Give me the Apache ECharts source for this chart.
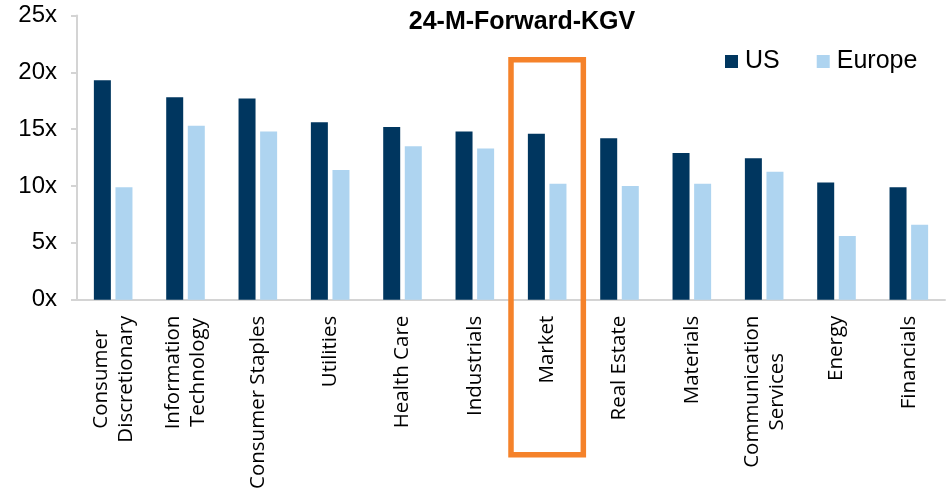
<!DOCTYPE html>
<html>
<head>
<meta charset="utf-8">
<script src="https://cdn.jsdelivr.net/npm/echarts@6/dist/echarts.min.js"></script>
<style>
html,body{margin:0;padding:0;background:#fff;}
#chart{width:950px;height:492px;}
</style>
</head>
<body>
<div id="chart"></div>
<script>
const categories = [
  'Consumer\nDiscretionary', 'Information\nTechnology', 'Consumer Staples', 'Utilities',
  'Health Care', 'Industrials', 'Market', 'Real Estate', 'Materials',
  'Communication\nServices', 'Energy', 'Financials'
];
const usValues     = [19.3, 17.8, 17.7, 15.6, 15.2, 14.8, 14.6, 14.2, 12.9, 12.45, 10.3, 9.9];
const europeValues = [9.9, 15.3, 14.8, 11.4, 13.5, 13.3, 10.2, 10.0, 10.2, 11.25, 5.6, 6.6];
const yTicks = [0, 5, 10, 15, 20, 25];
const highlightCategory = 'Market';
const highlightTop = 21.1;

const chart = echarts.init(document.getElementById('chart'));
const option = {
  animation: false,
  backgroundColor: '#ffffff',
  title: {
    text: '24-M-Forward-KGV',
    left: 517, textAlign: 'center', top: 5,
    textStyle: { fontFamily: 'Liberation Sans', fontWeight: 'bold', fontSize: 25, color: '#000' }
  },
  legend: {
    data: ['US', 'Europe'],
    left: 720, top: 44,
    itemWidth: 13, itemHeight: 13, itemGap: 37, icon: 'rect',
    textStyle: { fontFamily: 'Liberation Sans', fontSize: 25, color: '#000', padding: [0,0,0,2] }
  },
  grid: { left: 77, right: 5, top: 15.5, bottom: 190.3, containLabel: false },
  xAxis: {
    type: 'category',
    data: categories,
    axisLine: { lineStyle: { color: '#d4d4d4', width: 2 } },
    axisTick: { show: false },
    axisLabel: {
      rotate: 90, margin: 16, interval: 0,
      fontFamily: 'Open Sans', fontSize: 20.5, color: '#000', lineHeight: 25,
      formatter: v => v.split('\n').map(s => '{c|' + s + '}').join('\n'),
      rich: { c: { align: 'center', fontFamily: 'Open Sans', fontSize: 20.5, lineHeight: 25, color: '#000' } }
    }
  },
  yAxis: {
    type: 'value',
    min: yTicks[0], max: yTicks[yTicks.length - 1], interval: 5,
    axisLine: { show: true, lineStyle: { color: '#d4d4d4', width: 2 } },
    axisTick: { show: true, length: 6, lineStyle: { color: '#d4d4d4', width: 2 } },
    splitLine: { show: false },
    axisLabel: { formatter: '{value}x', margin: 20, fontFamily: 'Liberation Sans', fontSize: 24, color: '#000' }
  },
  series: [
    { name: 'US', type: 'bar', data: usValues, barWidth: 17, barGap: '27%',
      itemStyle: { color: '#00365F' } },
    { name: 'Europe', type: 'bar', data: europeValues, barWidth: 17,
      itemStyle: { color: '#AED4F0' } }
  ]
};
chart.setOption(option);

// orange highlight box around the "Market" category band
const idx = categories.indexOf(highlightCategory);
const cx = chart.convertToPixel({ xAxisIndex: 0 }, idx);
const cxNext = chart.convertToPixel({ xAxisIndex: 0 }, idx + 1);
const band = cxNext - cx;
const yTop = chart.convertToPixel({ yAxisIndex: 0 }, highlightTop);
const yZero = chart.convertToPixel({ yAxisIndex: 0 }, 0);
chart.setOption({
  graphic: [{
    type: 'rect', z: 100,
    shape: { x: cx - band / 2, y: yTop, width: band, height: (yZero + 155) - yTop },
    style: { fill: 'none', stroke: '#F5822A', lineWidth: 5.5 }
  }]
});
</script>
</body>
</html>
